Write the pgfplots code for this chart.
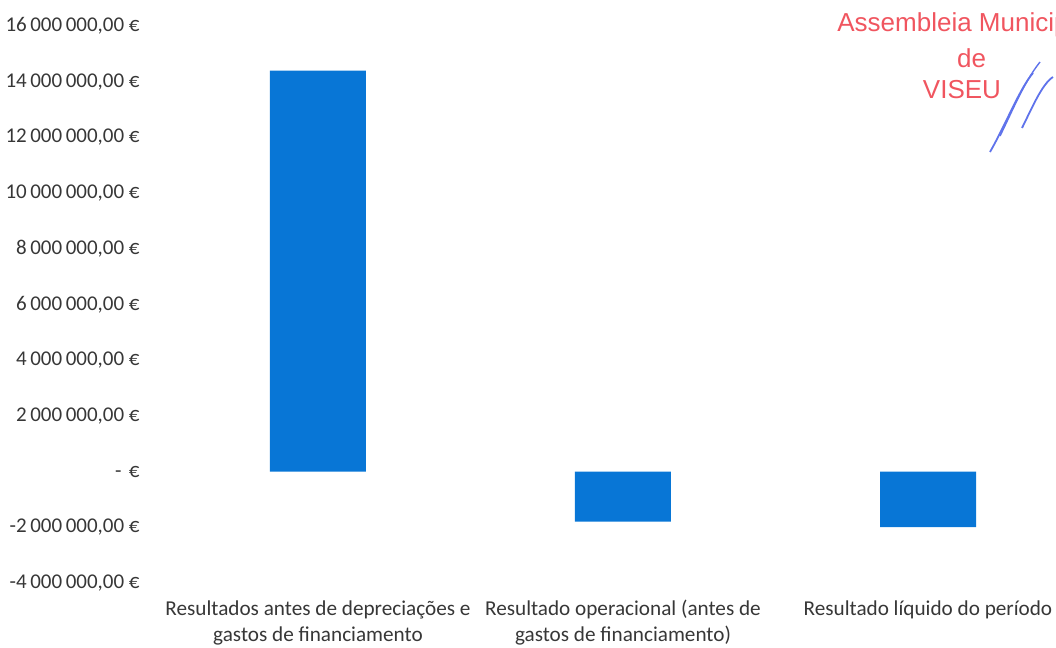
\documentclass[border=0pt]{standalone}
\usepackage{fontspec}
\setmainfont{Carlito}
\newfontfamily\arialf{Liberation Sans}
\usepackage{pgfplots}
\pgfplotsset{compat=1.18}
\definecolor{barblue}{RGB}{8,118,214}
\definecolor{txt}{RGB}{55,55,55}
\definecolor{stampred}{RGB}{240,85,95}
\definecolor{sigblue}{RGB}{95,115,235}
\begin{document}
\begin{tikzpicture}[x=1pt,y=1pt]
\useasboundingbox (0,0) rectangle (528,324);
\begin{axis}[
  at={(82.75pt,32.5pt)}, anchor=south west,
  scale only axis, width=457.5pt, height=278.5pt,
  xmin=-0.5, xmax=2.5, ymin=-4000000, ymax=16000000,
  axis line style={draw=none}, major tick length=0pt,
  tick style={draw=none},
  scaled y ticks=false,
  clip=false,
  ytick={-4000000,-2000000,0,2000000,4000000,6000000,8000000,10000000,12000000,14000000,16000000},
  yticklabels={{-4\,000\,000,00 €},{-2\,000\,000,00 €},{-\hspace{0.35em}€},{2\,000\,000,00 €},{4\,000\,000,00 €},{6\,000\,000,00 €},{8\,000\,000,00 €},{10\,000\,000,00 €},{12\,000\,000,00 €},{14\,000\,000,00 €},{16\,000\,000,00 €}},
  y tick label style={font=\fontsize{10.5}{12}\selectfont, text=txt, anchor=east, inner sep=0pt, xshift=-12.75pt},
  xtick={0,1,2},
  xticklabels={{Resultados antes de depreciações e\\gastos de financiamento},{Resultado operacional (antes de\\gastos de financiamento)},{Resultado líquido do período}},
  x tick label style={font=\fontsize{10.6}{13}\selectfont, text=txt, align=center, anchor=north, inner sep=0pt, yshift=-8.5pt},
  ybar, bar width=48pt,
]
\addplot[fill=barblue, draw=none] coordinates {(0,14400000) (1,-1800000) (2,-1990000)};
\end{axis}
\node[anchor=base west, inner sep=0pt, text=stampred, font=\arialf\fontsize{13}{16}\selectfont] at (418.5,308) {Assembleia Municipal};
\node[anchor=base, inner sep=0pt, text=stampred, font=\arialf\fontsize{13}{16}\selectfont] at (485.8,290) {de};
\node[anchor=base, inner sep=0pt, text=stampred, font=\arialf\fontsize{13}{16}\selectfont] at (481,274.5) {VISEU};
\draw[sigblue, line width=0.9pt] (495,248) .. controls (503,262) and (510,280) .. (516.5,287.5);
\draw[sigblue, line width=0.9pt] (511,260) .. controls (516,270) and (521,282) .. (526.5,285.5);
\draw[sigblue, line width=0.7pt] (500,256) .. controls (506,268) and (512,283) .. (520,293);
\end{tikzpicture}
\end{document}
